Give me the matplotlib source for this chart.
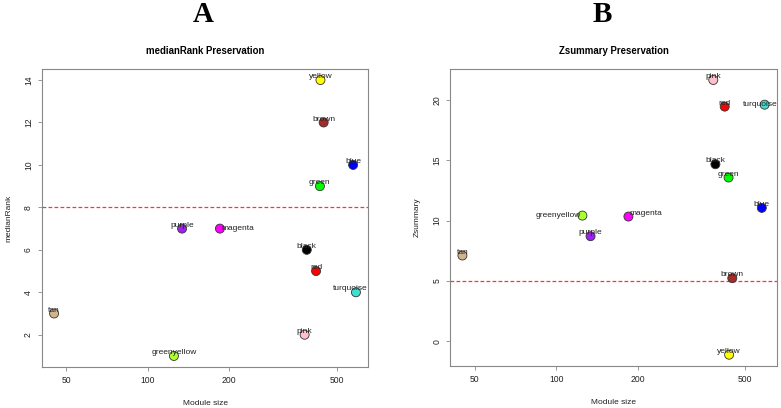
import matplotlib
matplotlib.use("Agg")
import matplotlib.pyplot as plt
import numpy as np

plt.rcParams['font.family'] = ['Liberation Sans', 'DejaVu Sans']

# module data
modules = ["yellow", "brown", "blue", "green", "purple", "magenta",
           "black", "red", "turquoise", "tan", "pink", "greenyellow"]
moduleSize = [436, 448, 576, 434, 134, 185, 388, 420, 590, 45, 381, 125]
medianRank = [14, 12, 10, 9, 7, 7, 6, 5, 4, 3, 2, 1]
zsummary = [-1.13, 5.22, 11.05, 13.57, 8.70, 10.33, 14.67, 19.45, 19.61, 7.10, 21.66, 10.41]

# R colour names -> hex
rcol = {"yellow": "#FFFF00", "brown": "#A52A2A", "blue": "#0000FF", "green": "#00FF00",
        "purple": "#A020F0", "magenta": "#FF00FF", "black": "#000000", "red": "#FF0000",
        "turquoise": "#40E0D0", "tan": "#D2B48C", "pink": "#FFC0CB", "greenyellow": "#ADFF2F"}

# label placement tweaks (dx, dy in points, ha)
offA = {"magenta": (1, 0, "left"), "turquoise": (-4, 2.5, "center")}
offB = {"magenta": (1, 2, "left"), "greenyellow": (-1, 0, "right"),
        "turquoise": (-3, 0, "center")}

fig = plt.figure(figsize=(7.81, 4.08), dpi=100)
axA = fig.add_axes([0.0538, 0.1005, 0.4174, 0.7304])
axB = fig.add_axes([0.5766, 0.1037, 0.4179, 0.7272])

def panel(ax, y, ylab, title, thresh, yticks, offs):
	cols = [rcol[m] for m in modules]
	ax.scatter(moduleSize, y, s=42, c=cols, edgecolors="#333333", linewidths=0.6, zorder=3)
	for m, xv, yv in zip(modules, moduleSize, y):
		dx, dy, ha = offs.get(m, (0, 2.5, "center"))
		ax.annotate(m, (xv, yv), xytext=(dx, dy), textcoords="offset points",
			ha=ha, va="center", fontsize=6, color="#222222", zorder=4)
	ax.axhline(thresh, color="red", lw=0.9, ls=(0, (3, 1.8)), alpha=0.8, zorder=2)
	ax.set_xscale("log")
	ax.set_xticks([50, 100, 200, 500])
	ax.set_xticklabels(["50", "100", "200", "500"])
	ax.minorticks_off()
	ax.set_yticks(yticks)
	ax.set_yticklabels([str(v) for v in yticks], rotation=90, va="center")
	lx = np.log10(moduleSize)
	r = lx.max() - lx.min()
	ax.set_xlim(10 ** (lx.min() - 0.04 * r), 10 ** (lx.max() + 0.04 * r))
	ry = max(y) - min(y)
	ax.set_ylim(min(y) - 0.04 * ry, max(y) + 0.04 * ry)
	for s in ax.spines.values():
		s.set_color("#888888")
		s.set_linewidth(0.8)
	ax.tick_params(length=3, width=0.6, color="#888888", labelsize=6.2,
		labelcolor="#222222", pad=3.5)
	ax.set_xlabel("Module size", fontsize=6, color="#222222", labelpad=11)
	ax.set_ylabel(ylab, fontsize=6, color="#222222", labelpad=8)
	ax.set_title(title, fontsize=6.9, fontweight="bold", pad=11)

panel(axA, medianRank, "medianRank", "medianRank Preservation", 8, [2, 4, 6, 8, 10, 12, 14], offA)
panel(axB, zsummary, "Zsummary", "Zsummary Preservation", 5, [0, 5, 10, 15, 20], offB)

fig.text(0.26, 0.965, "A", ha="center", va="center", fontsize=21,
	fontweight="bold", family=["Liberation Serif", "DejaVu Serif"])
fig.text(0.771, 0.965, "B", ha="center", va="center", fontsize=21,
	fontweight="bold", family=["Liberation Serif", "DejaVu Serif"])

fig.savefig("out.png", dpi=100)
